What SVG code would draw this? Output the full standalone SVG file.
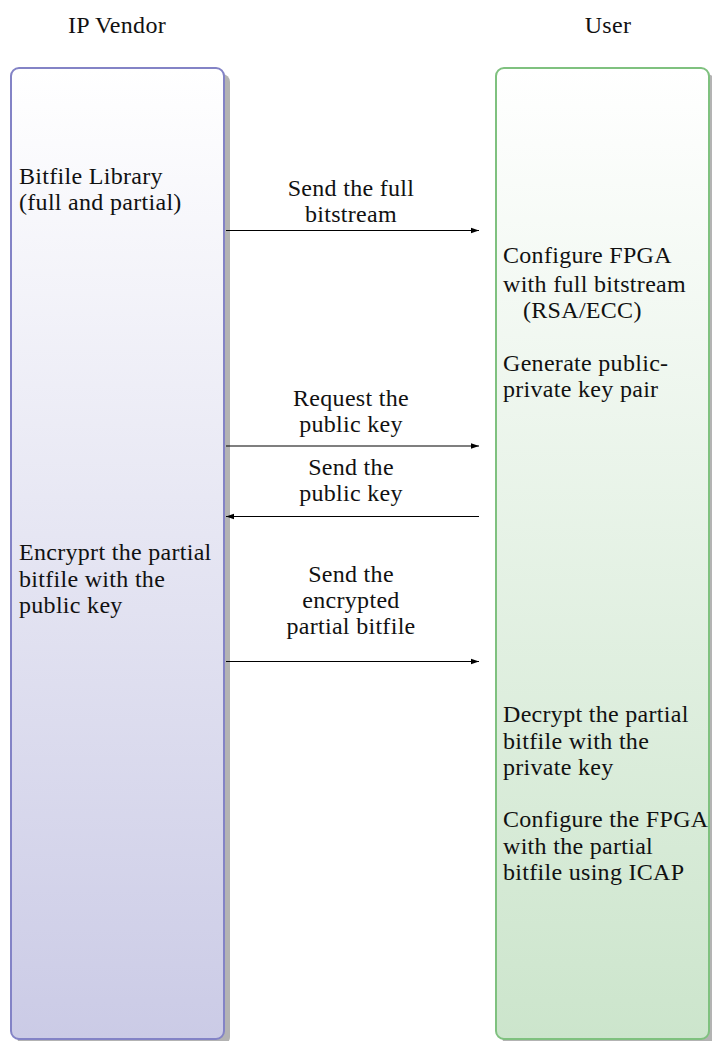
<svg xmlns="http://www.w3.org/2000/svg" width="712" height="1041" viewBox="0 0 712 1041">
<defs>
<linearGradient id="gL" x1="0" y1="0" x2="0" y2="1"><stop offset="0" stop-color="#ffffff"/><stop offset="1" stop-color="#cbcbe6"/></linearGradient>
<linearGradient id="gR" x1="0" y1="0" x2="0" y2="1"><stop offset="0" stop-color="#ffffff"/><stop offset="1" stop-color="#cce5cc"/></linearGradient>
<marker id="ah" viewBox="0 0 10 10" refX="10" refY="5" markerWidth="8" markerHeight="8" markerUnits="userSpaceOnUse" orient="auto"><path d="M0,1.5 L10,5 L0,8.5 Z" fill="#000"/></marker>
<style>
text{font-family:"Liberation Serif","DejaVu Serif",serif;font-size:24px;letter-spacing:0.3px;fill:#111}
.c{text-anchor:middle}
.sh{fill:#b3b3b3}
.conn line{stroke:#000;stroke-width:1.2;marker-end:url(#ah)}
</style>
</defs>
<g id="title-vendor"><text class="c" x="117" y="33">IP Vendor</text></g>
<g id="title-user"><text class="c" x="608" y="33">User</text></g>
<g id="vendor">
<rect class="sh" x="17" y="74" width="213" height="971" rx="8"/>
<rect x="11" y="68" width="213" height="971" rx="8" fill="url(#gL)" stroke="#8383c6" stroke-width="2"/>
<text x="19" y="184">Bitfile Library</text>
<text x="19" y="210">(full and partial)</text>
<text x="19" y="560">Encryprt the partial</text>
<text x="19" y="587">bitfile with the</text>
<text x="19" y="613">public key</text>
</g>
<g id="user">
<rect class="sh" x="502" y="74" width="213" height="971" rx="8"/>
<rect x="496" y="68" width="213" height="971" rx="8" fill="url(#gR)" stroke="#7fc17f" stroke-width="2"/>
<text x="503" y="263">Configure FPGA</text>
<text x="503" y="292">with full bitstream</text>
<text x="523" y="318">(RSA/ECC)</text>
<text x="503" y="371">Generate public-</text>
<text x="503" y="397">private key pair</text>
<text x="503" y="722">Decrypt the partial</text>
<text x="503" y="749">bitfile with the</text>
<text x="503" y="775">private key</text>
<text x="503" y="827">Configure the FPGA</text>
<text x="503" y="854">with the partial</text>
<text x="503" y="880">bitfile using ICAP</text>
</g>
<g id="connectors" class="conn">
<line x1="226" y1="230.5" x2="479" y2="230.5"/>
<line x1="226" y1="446" x2="479" y2="446"/>
<line x1="479" y1="516.5" x2="226" y2="516.5"/>
<line x1="226" y1="661.5" x2="479" y2="661.5"/>
</g>
<g id="labels">
<text class="c" x="351" y="196">Send the full</text>
<text class="c" x="351" y="222">bitstream</text>
<text class="c" x="351" y="406">Request the</text>
<text class="c" x="351" y="432">public key</text>
<text class="c" x="351" y="475">Send the</text>
<text class="c" x="351" y="501">public key</text>
<text class="c" x="351" y="582">Send the</text>
<text class="c" x="351" y="608">encrypted</text>
<text class="c" x="351" y="634">partial bitfile</text>
</g>
</svg>
